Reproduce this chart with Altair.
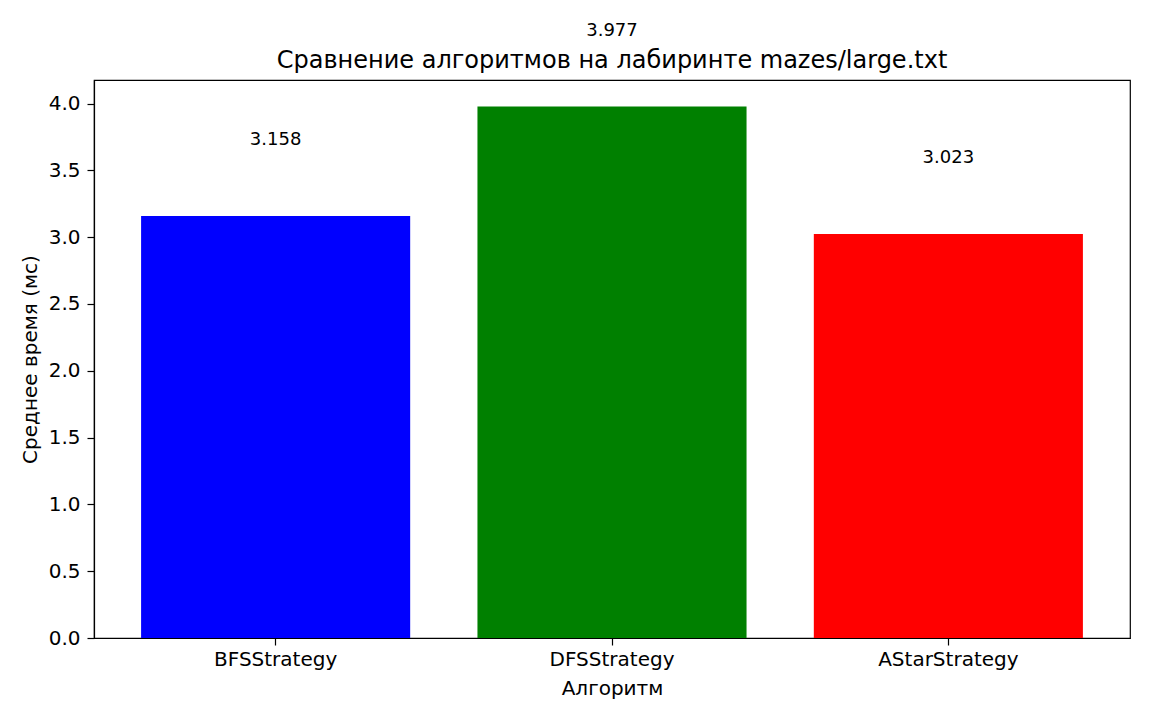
import altair as alt
import pandas as pd

algorithms = ["BFSStrategy", "DFSStrategy", "AStarStrategy"]
times = [3.158, 3.977, 3.023]
colors = ["#0000ff", "#008000", "#ff0000"]
y_ticks = [0.0, 0.5, 1.0, 1.5, 2.0, 2.5, 3.0, 3.5, 4.0]
y_max = 4.176

df = pd.DataFrame({"algo": algorithms, "time": times, "color": colors})

FONT = "DejaVu Sans"
y_title = "Среднее время (мс)"

x_enc = alt.X(
    "algo:N",
    sort=algorithms,
    title="Алгоритм",
    scale=alt.Scale(paddingInner=0.2, paddingOuter=0.14),
    axis=alt.Axis(
        labelAngle=0,
        labelFontSize=20,
        labelPadding=4,
        tickSize=7,
        titleFontSize=20,
        titleFontWeight="normal",
        titleY=50,
        titleBaseline="middle",
    ),
)

y_scale = alt.Scale(domain=[0, y_max], nice=False, zero=True)

bars = alt.Chart(df).mark_bar().encode(
    x=x_enc,
    y=alt.Y(
        "time:Q",
        scale=y_scale,
        title=y_title,
        axis=alt.Axis(
            values=y_ticks,
            format=".1f",
            grid=False,
            labelFontSize=20,
            labelPadding=7,
            tickSize=7,
            titleFontSize=20,
            titleFontWeight="normal",
            titleX=-64,
            titleY=279,
            titleAngle=270,
            titleAlign="center",
            titleBaseline="middle",
        ),
    ),
    color=alt.Color("color:N", scale=None),
)

labels = (
    alt.Chart(df)
    .transform_calculate(pos="datum.time + 0.5")
    .mark_text(baseline="bottom", fontSize=18, font=FONT, color="black")
    .encode(
        x=alt.X("algo:N", sort=algorithms),
        y=alt.Y("pos:Q", scale=y_scale, title=y_title),
        text=alt.Text("time:Q", format=".3f"),
    )
)

chart = (
    alt.layer(bars, labels)
    .properties(
        width=1036,
        height=558,
        autosize=alt.AutoSizeParams(type="none"),
        padding={"left": 86, "top": 72, "right": 14, "bottom": 74},
        title=alt.TitleParams(
            "Сравнение алгоритмов на лабиринте mazes/large.txt",
            fontSize=24,
            fontWeight="normal",
            font=FONT,
            color="black",
            baseline="alphabetic",
            offset=0,
            dy=70,
            anchor="middle",
        ),
    )
    .configure_view(stroke="black", strokeWidth=1.2)
    .configure_axis(
        domainColor="black",
        domainWidth=1.2,
        tickColor="black",
        tickWidth=1.2,
        labelColor="black",
        titleColor="black",
        labelFont=FONT,
        titleFont=FONT,
    )
)

chart.save("out.html", embed_options={"renderer": "svg", "actions": False})
